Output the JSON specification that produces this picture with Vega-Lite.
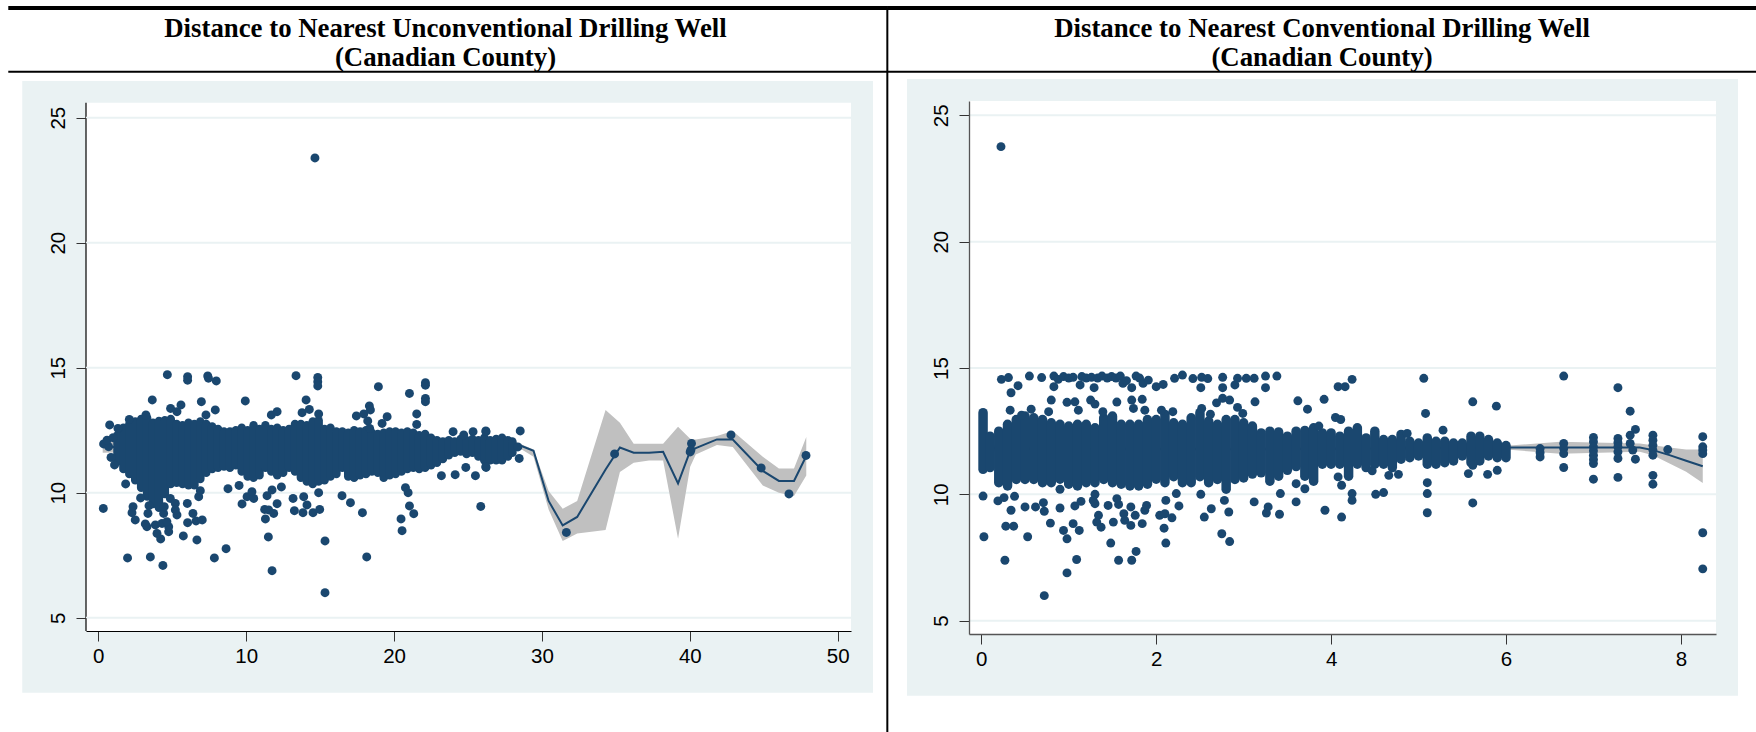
{"$schema":"https://vega.github.io/schema/vega-lite/v6.json","padding":{"left":6,"top":5,"right":0,"bottom":0},"background":"#ffffff","spacing":118,"bounds":"flush","config":{"view":{"stroke":null},"axis":{"grid":false,"title":null,"labelFont":"Liberation Sans","labelFontSize":20.5,"labelColor":"#000000","tickSize":10,"tickWidth":1,"labelPadding":8},"axisX":{"labelPadding":5},"title":{"font":"Liberation Serif","fontSize":26.8,"fontWeight":"bold","color":"#000000","anchor":"middle","frame":"group","lineHeight":29,"offset":-66}},"hconcat":[{"width":765,"height":530,"data":{"values":[{"k":1}]},"title":{"text":["Distance to Nearest Unconventional Drilling Well","(Canadian County)"],"dx":-23},"layer":[{"mark":{"type":"rect","color":"#eaf2f3","clip":false},"encoding":{"x":{"datum":-5.139,"type":"quantitative","scale":{"domain":[-0.83,50.894],"nice":false,"zero":false},"axis":{"title":null,"zindex":1,"values":[0,10,20,30,40,50],"format":"d","domain":true,"domainColor":"#000000","domainWidth":1,"tickColor":"#333333"}},"x2":{"datum":52.38},"y":{"datum":2.0,"type":"quantitative","scale":{"domain":[4.468,25.668],"nice":false,"zero":false},"axis":{"title":null,"zindex":1,"values":[5,10,15,20,25],"format":"d","domain":false,"labelAngle":-90,"tickColor":"#333333"}},"y2":{"datum":26.468}}},{"mark":{"type":"rect","color":"#ffffff","clip":false},"encoding":{"x":{"datum":-0.83,"type":"quantitative"},"x2":{"datum":50.894},"y":{"datum":4.468,"type":"quantitative"},"y2":{"datum":25.6}}},{"mark":{"type":"rule","color":"#000000","strokeWidth":1.2,"clip":false},"encoding":{"x":{"datum":-0.83,"type":"quantitative"},"y":{"datum":4.468,"type":"quantitative"},"y2":{"datum":25.6}}},{"data":{"values":[{"g":5},{"g":10},{"g":15},{"g":20},{"g":25}]},"mark":{"type":"rule","color":"#eaf2f3","strokeWidth":2},"encoding":{"y":{"field":"g","type":"quantitative"}}},{"data":{"values":[{"x":0.3,"lo":11.6,"hi":12.1,"fit":11.85},{"x":5,"lo":11.65,"hi":11.8,"fit":11.72},{"x":10,"lo":11.7,"hi":11.85,"fit":11.78},{"x":20,"lo":11.65,"hi":11.8,"fit":11.72},{"x":28.08,"lo":11.93,"hi":12.07,"fit":12.0},{"x":29.43,"lo":11.44,"hi":11.73,"fit":11.68},{"x":30.45,"lo":9.33,"hi":10.07,"fit":9.67},{"x":31.4,"lo":8.07,"hi":9.36,"fit":8.69},{"x":32.38,"lo":8.37,"hi":9.67,"fit":9.03},{"x":34.3,"lo":8.51,"hi":13.31,"fit":10.93},{"x":35.27,"lo":10.83,"hi":12.8,"fit":11.81},{"x":36.2,"lo":11.2,"hi":11.96,"fit":11.6},{"x":37.24,"lo":11.29,"hi":11.96,"fit":11.6},{"x":38.19,"lo":11.29,"hi":11.96,"fit":11.64},{"x":39.2,"lo":8.16,"hi":12.64,"fit":10.37},{"x":40.02,"lo":11.04,"hi":12.16,"fit":11.67},{"x":40.4,"lo":11.53,"hi":12.13,"fit":11.78},{"x":41.83,"lo":11.91,"hi":12.27,"fit":12.13},{"x":42.9,"lo":11.83,"hi":12.47,"fit":12.13},{"x":44.93,"lo":10.29,"hi":11.44,"fit":10.87},{"x":46.02,"lo":10.0,"hi":10.97,"fit":10.47},{"x":47.04,"lo":9.87,"hi":10.97,"fit":10.47},{"x":47.87,"lo":10.69,"hi":12.23,"fit":11.47}]},"layer":[{"mark":{"type":"area","color":"#c0c0c0"},"encoding":{"x":{"field":"x","type":"quantitative"},"y":{"field":"lo","type":"quantitative"},"y2":{"field":"hi"}}},{"mark":{"type":"line","color":"#1a476f","strokeWidth":2},"encoding":{"x":{"field":"x","type":"quantitative"},"y":{"field":"fit","type":"quantitative"}}}]},{"data":{"values":[{"x":1.3,"lo":11.25,"hi":12.3},{"x":1.7,"lo":10.95,"hi":12.6},{"x":2.1,"lo":10.75,"hi":12.75},{"x":2.5,"lo":10.5,"hi":12.85},{"x":2.9,"lo":10.2,"hi":12.95},{"x":3.3,"lo":9.85,"hi":13.0},{"x":3.7,"lo":9.55,"hi":12.8},{"x":4.1,"lo":9.4,"hi":12.87},{"x":4.5,"lo":9.95,"hi":12.9},{"x":4.9,"lo":10.35,"hi":12.95},{"x":5.3,"lo":10.4,"hi":12.75},{"x":5.7,"lo":10.35,"hi":12.7},{"x":6.1,"lo":10.3,"hi":12.8},{"x":6.5,"lo":10.3,"hi":12.75},{"x":6.9,"lo":10.55,"hi":12.85},{"x":7.3,"lo":10.8,"hi":12.75},{"x":7.7,"lo":10.95,"hi":12.65},{"x":8.1,"lo":11.0,"hi":12.55},{"x":8.5,"lo":11.05,"hi":12.45},{"x":8.9,"lo":11.0,"hi":12.45},{"x":9.3,"lo":11.1,"hi":12.5},{"x":9.7,"lo":10.85,"hi":12.6},{"x":10.1,"lo":10.65,"hi":12.5},{"x":10.5,"lo":10.6,"hi":12.7},{"x":10.9,"lo":10.7,"hi":12.55},{"x":11.3,"lo":11.0,"hi":12.7},{"x":11.7,"lo":10.85,"hi":12.55},{"x":12.1,"lo":10.7,"hi":12.6},{"x":12.5,"lo":10.8,"hi":12.5},{"x":12.9,"lo":11.0,"hi":12.55},{"x":13.3,"lo":10.85,"hi":12.75},{"x":13.7,"lo":10.6,"hi":12.75},{"x":14.1,"lo":10.45,"hi":12.7},{"x":14.5,"lo":10.35,"hi":12.85},{"x":14.9,"lo":10.45,"hi":12.9},{"x":15.3,"lo":10.5,"hi":12.55},{"x":15.7,"lo":10.65,"hi":12.6},{"x":16.1,"lo":10.75,"hi":12.45},{"x":16.5,"lo":11.0,"hi":12.45},{"x":16.9,"lo":10.65,"hi":12.4},{"x":17.3,"lo":10.6,"hi":12.5},{"x":17.7,"lo":10.7,"hi":12.45},{"x":18.1,"lo":10.75,"hi":12.5},{"x":18.5,"lo":10.85,"hi":12.4},{"x":18.9,"lo":10.8,"hi":12.35},{"x":19.3,"lo":10.6,"hi":12.4},{"x":19.7,"lo":10.7,"hi":12.45},{"x":20.1,"lo":10.75,"hi":12.45},{"x":20.5,"lo":10.85,"hi":12.4},{"x":20.9,"lo":10.95,"hi":12.45},{"x":21.3,"lo":11.0,"hi":12.4},{"x":21.7,"lo":10.95,"hi":12.3},{"x":22.1,"lo":11.0,"hi":12.35},{"x":22.5,"lo":11.1,"hi":12.2},{"x":22.9,"lo":11.2,"hi":12.1},{"x":23.3,"lo":11.35,"hi":12.05},{"x":23.7,"lo":11.5,"hi":12.1},{"x":24.1,"lo":11.6,"hi":12.05},{"x":24.5,"lo":11.65,"hi":12.15},{"x":24.9,"lo":11.55,"hi":12.1},{"x":25.3,"lo":11.6,"hi":12.15},{"x":25.7,"lo":11.45,"hi":12.1},{"x":26.1,"lo":11.3,"hi":12.2},{"x":26.5,"lo":11.3,"hi":12.1},{"x":26.9,"lo":11.3,"hi":12.15},{"x":27.3,"lo":11.3,"hi":12.2},{"x":27.7,"lo":11.45,"hi":12.1},{"x":28.0,"lo":11.6,"hi":12.05}]},"mark":{"type":"rule","color":"#1a476f","strokeWidth":8.5,"strokeCap":"round"},"encoding":{"x":{"field":"x","type":"quantitative"},"y":{"field":"lo","type":"quantitative"},"y2":{"field":"hi"}}},{"data":{"values":[{"x":14.65,"y":23.39},{"x":0.34,"y":9.37},{"x":1.98,"y":7.39},{"x":3.52,"y":7.43},{"x":4.37,"y":7.09},{"x":7.85,"y":7.39},{"x":8.64,"y":7.76},{"x":11.75,"y":6.88},{"x":15.33,"y":6.0},{"x":15.33,"y":8.07},{"x":18.15,"y":7.43},{"x":11.5,"y":8.23},{"x":6.67,"y":8.11},{"x":5.75,"y":8.27},{"x":4.22,"y":8.15},{"x":4.76,"y":8.44},{"x":3.97,"y":8.37},{"x":3.29,"y":8.64},{"x":3.18,"y":8.75},{"x":2.5,"y":8.91},{"x":2.28,"y":9.2},{"x":2.35,"y":9.44},{"x":2.86,"y":9.79},{"x":1.85,"y":10.35},{"x":3.36,"y":9.17},{"x":3.43,"y":9.48},{"x":3.86,"y":8.71},{"x":4.31,"y":8.77},{"x":4.76,"y":8.64},{"x":4.64,"y":8.84},{"x":4.42,"y":9.17},{"x":4.46,"y":9.44},{"x":4.87,"y":9.77},{"x":5.21,"y":9.57},{"x":5.32,"y":9.11},{"x":5.21,"y":9.31},{"x":6.02,"y":9.57},{"x":6.04,"y":8.8},{"x":6.4,"y":9.17},{"x":6.61,"y":8.87},{"x":7.03,"y":8.91},{"x":6.79,"y":9.84},{"x":6.9,"y":10.08},{"x":8.77,"y":10.16},{"x":9.52,"y":10.29},{"x":9.72,"y":9.55},{"x":10.06,"y":9.84},{"x":10.51,"y":9.77},{"x":10.39,"y":10.04},{"x":11.25,"y":9.33},{"x":11.3,"y":8.95},{"x":11.52,"y":9.31},{"x":11.86,"y":9.17},{"x":12.09,"y":9.56},{"x":11.41,"y":9.88},{"x":11.75,"y":10.11},{"x":12.38,"y":10.23},{"x":13.17,"y":9.77},{"x":13.26,"y":9.28},{"x":13.89,"y":9.84},{"x":13.84,"y":9.2},{"x":14.11,"y":9.51},{"x":14.52,"y":9.2},{"x":14.97,"y":9.33},{"x":14.9,"y":10.0},{"x":16.48,"y":9.88},{"x":17.05,"y":9.6},{"x":17.86,"y":9.2},{"x":20.47,"y":8.95},{"x":20.54,"y":8.48},{"x":21.04,"y":9.47},{"x":21.33,"y":9.16},{"x":20.95,"y":10.0},{"x":20.77,"y":10.2},{"x":23.2,"y":10.68},{"x":24.13,"y":10.72},{"x":25.5,"y":10.68},{"x":25.86,"y":9.45},{"x":24.85,"y":11.01},{"x":26.22,"y":11.01},{"x":4.67,"y":14.72},{"x":6.04,"y":14.64},{"x":6.04,"y":14.5},{"x":7.4,"y":14.67},{"x":7.45,"y":14.58},{"x":7.98,"y":14.47},{"x":13.37,"y":14.68},{"x":14.84,"y":14.61},{"x":14.84,"y":14.44},{"x":14.84,"y":14.27},{"x":22.12,"y":14.4},{"x":22.12,"y":14.3},{"x":22.12,"y":13.77},{"x":22.12,"y":13.64},{"x":21.04,"y":13.97},{"x":18.94,"y":14.24},{"x":3.65,"y":13.71},{"x":6.97,"y":13.64},{"x":9.94,"y":13.67},{"x":14.05,"y":13.71},{"x":7.91,"y":13.31},{"x":4.89,"y":13.37},{"x":5.59,"y":13.51},{"x":5.32,"y":13.24},{"x":7.28,"y":13.11},{"x":11.7,"y":13.11},{"x":12.09,"y":13.24},{"x":13.78,"y":13.2},{"x":14.27,"y":13.33},{"x":14.9,"y":13.15},{"x":18.33,"y":13.47},{"x":18.4,"y":13.31},{"x":17.95,"y":13.15},{"x":17.45,"y":13.07},{"x":19.53,"y":13.04},{"x":19.19,"y":12.77},{"x":21.53,"y":13.15},{"x":21.53,"y":12.73},{"x":18.22,"y":12.87},{"x":18.35,"y":12.57},{"x":23.99,"y":12.44},{"x":24.71,"y":12.31},{"x":25.34,"y":12.44},{"x":26.22,"y":12.44},{"x":3.22,"y":13.11},{"x":2.1,"y":12.93},{"x":0.77,"y":12.71},{"x":1.33,"y":12.57},{"x":0.36,"y":11.95},{"x":0.7,"y":11.84},{"x":0.86,"y":11.41},{"x":1.1,"y":11.11},{"x":0.59,"y":12.1},{"x":1.0,"y":12.2},{"x":28.53,"y":12.47},{"x":28.37,"y":11.83},{"x":28.46,"y":11.37},{"x":26.2,"y":12.47},{"x":26.2,"y":11.04},{"x":31.65,"y":8.41},{"x":34.91,"y":11.55},{"x":40.11,"y":11.97},{"x":40.07,"y":11.71},{"x":40.02,"y":11.63},{"x":42.78,"y":12.31},{"x":44.82,"y":10.99},{"x":46.7,"y":9.95},{"x":47.85,"y":11.49}]},"mark":{"type":"circle","color":"#1a476f","size":80,"opacity":1},"encoding":{"x":{"field":"x","type":"quantitative"},"y":{"field":"y","type":"quantitative"}}},{"mark":{"type":"rule","color":"#000000","strokeWidth":4,"clip":false},"encoding":{"x":{"datum":-6.085,"type":"quantitative"},"x2":{"datum":53.35},"y":{"datum":29.388,"type":"quantitative"}}},{"mark":{"type":"rule","color":"#000000","strokeWidth":2,"clip":false},"encoding":{"x":{"datum":-6.085,"type":"quantitative"},"x2":{"datum":53.35},"y":{"datum":26.84,"type":"quantitative"}}},{"mark":{"type":"rule","color":"#000000","strokeWidth":2,"clip":false},"encoding":{"x":{"datum":53.35,"type":"quantitative"},"y":{"datum":29.388,"type":"quantitative"},"y2":{"datum":0.38}}}]},{"width":747,"height":533,"data":{"values":[{"k":1}]},"title":{"text":["Distance to Nearest Conventional Drilling Well","(Canadian County)"],"dx":-20.5},"layer":[{"mark":{"type":"rect","color":"#eaf2f3","clip":false},"encoding":{"x":{"datum":-0.85,"type":"quantitative","scale":{"domain":[-0.1407,8.4015],"nice":false,"zero":false},"axis":{"title":null,"zindex":1,"values":[0,2,4,6,8],"format":"d","domain":true,"domainColor":"#555555","domainWidth":1.3,"tickColor":"#333333"}},"x2":{"datum":8.653},"y":{"datum":2.032,"type":"quantitative","scale":{"domain":[4.472,25.566],"nice":false,"zero":false},"axis":{"title":null,"zindex":1,"values":[5,10,15,20,25],"format":"d","domain":true,"domainColor":"#555555","domainWidth":1.3,"labelAngle":-90,"tickColor":"#333333"}},"y2":{"datum":26.436}}},{"mark":{"type":"rect","color":"#ffffff","clip":false},"encoding":{"x":{"datum":-0.1407,"type":"quantitative"},"x2":{"datum":8.4015},"y":{"datum":4.472,"type":"quantitative"},"y2":{"datum":25.566}}},{"data":{"values":[{"g":5},{"g":10},{"g":15},{"g":20},{"g":25}]},"mark":{"type":"rule","color":"#eaf2f3","strokeWidth":2},"encoding":{"y":{"field":"g","type":"quantitative"}}},{"data":{"values":[{"x":0.02,"lo":11.7,"hi":11.95,"fit":11.82},{"x":3,"lo":11.72,"hi":11.85,"fit":11.78},{"x":6.08,"lo":11.75,"hi":11.94,"fit":11.85},{"x":6.62,"lo":11.61,"hi":12.08,"fit":11.85},{"x":7.53,"lo":11.68,"hi":12.01,"fit":11.85},{"x":7.68,"lo":11.55,"hi":11.94,"fit":11.75},{"x":7.87,"lo":11.22,"hi":11.85,"fit":11.55},{"x":8.06,"lo":10.89,"hi":11.77,"fit":11.33},{"x":8.25,"lo":10.45,"hi":11.77,"fit":11.11}]},"layer":[{"mark":{"type":"area","color":"#c0c0c0"},"encoding":{"x":{"field":"x","type":"quantitative"},"y":{"field":"lo","type":"quantitative"},"y2":{"field":"hi"}}},{"mark":{"type":"line","color":"#1a476f","strokeWidth":2},"encoding":{"x":{"field":"x","type":"quantitative"},"y":{"field":"fit","type":"quantitative"}}}]},{"data":{"values":[{"x":0.02,"lo":10.99,"hi":13.23},{"x":0.1,"lo":11.06,"hi":12.3},{"x":0.2,"lo":10.46,"hi":12.5},{"x":0.3,"lo":10.33,"hi":12.77},{"x":0.4,"lo":10.59,"hi":12.96},{"x":0.5,"lo":10.59,"hi":13.1},{"x":0.6,"lo":10.59,"hi":13.03},{"x":0.7,"lo":10.46,"hi":12.96},{"x":0.8,"lo":10.46,"hi":12.83},{"x":0.9,"lo":10.6,"hi":12.77},{"x":1.0,"lo":10.4,"hi":12.7},{"x":1.1,"lo":10.33,"hi":12.77},{"x":1.2,"lo":10.46,"hi":12.77},{"x":1.3,"lo":10.46,"hi":12.63},{"x":1.4,"lo":10.59,"hi":13.03},{"x":1.5,"lo":10.46,"hi":13.1},{"x":1.6,"lo":10.4,"hi":12.77},{"x":1.7,"lo":10.33,"hi":12.77},{"x":1.8,"lo":10.33,"hi":12.77},{"x":1.9,"lo":10.4,"hi":12.96},{"x":2.0,"lo":10.6,"hi":12.96},{"x":2.1,"lo":10.46,"hi":13.16},{"x":2.2,"lo":10.7,"hi":12.83},{"x":2.3,"lo":10.46,"hi":12.77},{"x":2.4,"lo":10.46,"hi":13.03},{"x":2.5,"lo":10.7,"hi":13.23},{"x":2.6,"lo":10.46,"hi":12.9},{"x":2.7,"lo":10.59,"hi":12.77},{"x":2.8,"lo":10.2,"hi":12.96},{"x":2.9,"lo":10.59,"hi":12.96},{"x":3.0,"lo":10.65,"hi":12.83},{"x":3.1,"lo":10.8,"hi":12.7},{"x":3.2,"lo":10.85,"hi":12.43},{"x":3.3,"lo":10.52,"hi":12.5},{"x":3.4,"lo":10.72,"hi":12.47},{"x":3.5,"lo":10.95,"hi":12.3},{"x":3.6,"lo":11.1,"hi":12.5},{"x":3.7,"lo":10.72,"hi":12.53},{"x":3.8,"lo":10.52,"hi":12.63},{"x":3.9,"lo":11.19,"hi":12.43},{"x":4.0,"lo":11.19,"hi":12.43},{"x":4.1,"lo":11.19,"hi":12.3},{"x":4.2,"lo":10.72,"hi":12.5},{"x":4.3,"lo":11.19,"hi":12.63},{"x":4.4,"lo":11.06,"hi":12.23},{"x":4.5,"lo":11.19,"hi":12.5},{"x":4.6,"lo":11.19,"hi":12.17},{"x":4.7,"lo":11.06,"hi":12.17},{"x":4.8,"lo":11.39,"hi":12.37},{"x":4.9,"lo":11.45,"hi":12.1},{"x":5.0,"lo":11.52,"hi":12.03},{"x":5.1,"lo":11.19,"hi":12.23},{"x":5.2,"lo":11.19,"hi":12.1},{"x":5.3,"lo":11.25,"hi":12.1},{"x":5.4,"lo":11.32,"hi":12.03},{"x":5.5,"lo":11.52,"hi":12.03},{"x":5.6,"lo":11.25,"hi":12.3},{"x":5.7,"lo":11.32,"hi":12.3},{"x":5.8,"lo":11.52,"hi":12.17},{"x":5.9,"lo":11.45,"hi":12.03},{"x":6.0,"lo":11.45,"hi":11.93}]},"mark":{"type":"rule","color":"#1a476f","strokeWidth":9.5,"strokeCap":"round"},"encoding":{"x":{"field":"x","type":"quantitative"},"y":{"field":"lo","type":"quantitative"},"y2":{"field":"hi"}}},{"data":{"values":[{"x":0.225,"y":23.76},{"x":0.23,"y":14.55},{"x":0.31,"y":14.62},{"x":0.55,"y":14.68},{"x":0.69,"y":14.62},{"x":0.83,"y":14.68},{"x":0.83,"y":14.26},{"x":0.88,"y":14.55},{"x":0.94,"y":14.66},{"x":1.0,"y":14.6},{"x":1.05,"y":14.63},{"x":1.13,"y":14.33},{"x":1.15,"y":14.66},{"x":1.2,"y":14.6},{"x":1.26,"y":14.63},{"x":1.29,"y":14.22},{"x":1.33,"y":14.6},{"x":1.38,"y":14.68},{"x":1.44,"y":14.6},{"x":1.49,"y":14.66},{"x":1.54,"y":14.6},{"x":1.59,"y":14.68},{"x":1.62,"y":14.39},{"x":1.66,"y":14.5},{"x":1.72,"y":14.22},{"x":1.77,"y":14.68},{"x":1.81,"y":14.6},{"x":1.85,"y":14.39},{"x":1.91,"y":14.52},{"x":2.0,"y":14.26},{"x":2.08,"y":14.35},{"x":2.21,"y":14.59},{"x":2.3,"y":14.72},{"x":2.42,"y":14.58},{"x":2.52,"y":14.63},{"x":2.59,"y":14.58},{"x":2.51,"y":14.22},{"x":2.76,"y":14.63},{"x":2.76,"y":14.22},{"x":2.9,"y":14.33},{"x":2.93,"y":14.59},{"x":3.03,"y":14.59},{"x":3.12,"y":14.59},{"x":3.25,"y":14.68},{"x":3.25,"y":14.22},{"x":3.38,"y":14.68},{"x":0.34,"y":14.02},{"x":0.42,"y":14.3},{"x":0.8,"y":13.73},{"x":0.98,"y":13.64},{"x":1.07,"y":13.66},{"x":1.11,"y":13.33},{"x":1.25,"y":13.73},{"x":1.3,"y":13.57},{"x":1.55,"y":13.65},{"x":1.72,"y":13.73},{"x":1.84,"y":13.76},{"x":1.39,"y":13.27},{"x":1.74,"y":13.4},{"x":1.87,"y":13.33},{"x":2.06,"y":13.33},{"x":2.19,"y":13.27},{"x":2.52,"y":13.4},{"x":2.62,"y":13.17},{"x":2.69,"y":13.62},{"x":2.76,"y":13.8},{"x":2.84,"y":13.73},{"x":2.93,"y":13.44},{"x":2.99,"y":13.2},{"x":3.13,"y":13.66},{"x":3.62,"y":13.7},{"x":3.73,"y":13.37},{"x":3.92,"y":13.76},{"x":3.86,"y":12.7},{"x":0.33,"y":13.33},{"x":0.57,"y":13.37},{"x":0.77,"y":13.27},{"x":0.46,"y":13.13},{"x":0.02,"y":9.93},{"x":0.03,"y":8.32},{"x":0.27,"y":7.39},{"x":0.28,"y":8.74},{"x":0.37,"y":8.74},{"x":0.53,"y":8.32},{"x":0.72,"y":5.99},{"x":0.98,"y":6.89},{"x":1.09,"y":7.42},{"x":0.98,"y":8.24},{"x":0.94,"y":8.57},{"x":1.05,"y":8.84},{"x":1.12,"y":8.57},{"x":0.79,"y":8.86},{"x":0.72,"y":9.33},{"x":0.62,"y":9.5},{"x":0.5,"y":9.5},{"x":0.34,"y":9.37},{"x":0.19,"y":9.74},{"x":0.26,"y":9.87},{"x":0.38,"y":9.92},{"x":0.71,"y":9.67},{"x":0.9,"y":9.46},{"x":0.9,"y":10.2},{"x":1.07,"y":9.54},{"x":1.14,"y":9.72},{"x":1.3,"y":9.63},{"x":1.3,"y":10.0},{"x":1.45,"y":9.56},{"x":1.57,"y":9.6},{"x":1.51,"y":8.9},{"x":1.48,"y":8.07},{"x":1.57,"y":7.39},{"x":1.72,"y":7.39},{"x":1.77,"y":7.74},{"x":1.34,"y":9.17},{"x":1.32,"y":8.9},{"x":1.37,"y":8.7},{"x":1.63,"y":9.23},{"x":1.64,"y":8.97},{"x":1.71,"y":8.77},{"x":1.71,"y":9.5},{"x":1.76,"y":9.17},{"x":1.84,"y":8.84},{"x":1.87,"y":9.37},{"x":1.89,"y":9.56},{"x":2.04,"y":9.17},{"x":2.1,"y":9.23},{"x":2.18,"y":9.07},{"x":2.09,"y":8.66},{"x":2.11,"y":8.07},{"x":2.11,"y":9.76},{"x":2.26,"y":9.54},{"x":2.51,"y":10.0},{"x":2.55,"y":9.1},{"x":2.63,"y":9.43},{"x":2.83,"y":9.3},{"x":2.78,"y":9.76},{"x":2.75,"y":8.44},{"x":2.84,"y":8.13},{"x":3.12,"y":9.7},{"x":3.26,"y":9.26},{"x":3.28,"y":9.5},{"x":3.41,"y":9.21},{"x":3.42,"y":10.03},{"x":3.6,"y":9.7},{"x":3.6,"y":10.42},{"x":3.7,"y":10.22},{"x":3.93,"y":9.37},{"x":1.28,"y":9.76},{"x":1.55,"y":9.83},{"x":2.23,"y":10.03},{"x":4.24,"y":14.55},{"x":4.08,"y":14.26},{"x":4.16,"y":14.26},{"x":4.05,"y":13.04},{"x":4.11,"y":12.96},{"x":4.12,"y":9.1},{"x":4.24,"y":9.76},{"x":4.24,"y":10.03},{"x":4.12,"y":10.36},{"x":4.08,"y":10.69},{"x":4.51,"y":10.0},{"x":4.6,"y":10.07},{"x":4.47,"y":10.93},{"x":4.66,"y":10.75},{"x":4.77,"y":10.79},{"x":5.06,"y":14.59},{"x":5.08,"y":13.2},{"x":5.1,"y":10.46},{"x":5.1,"y":10.03},{"x":5.1,"y":9.27},{"x":5.62,"y":13.66},{"x":5.89,"y":13.49},{"x":5.62,"y":9.66},{"x":5.57,"y":10.82},{"x":5.62,"y":11.15},{"x":5.79,"y":10.79},{"x":5.9,"y":10.95},{"x":5.28,"y":12.54},{"x":4.87,"y":12.41},{"x":6.66,"y":14.68},{"x":7.28,"y":14.22},{"x":7.42,"y":13.29},{"x":7.48,"y":12.57},{"x":7.42,"y":12.34},{"x":7.48,"y":11.39},{"x":6.66,"y":11.06},{"x":7.0,"y":10.6},{"x":7.28,"y":10.67},{"x":7.68,"y":10.75},{"x":7.68,"y":10.4},{"x":7.85,"y":11.77},{"x":8.25,"y":12.28},{"x":8.25,"y":11.88},{"x":8.25,"y":11.75},{"x":8.25,"y":11.61},{"x":8.25,"y":8.48},{"x":8.25,"y":7.05},{"x":6.39,"y":11.81},{"x":6.39,"y":11.48},{"x":6.39,"y":11.65},{"x":6.66,"y":12.01},{"x":6.66,"y":11.81},{"x":6.66,"y":11.61},{"x":7.0,"y":12.25},{"x":7.0,"y":12.08},{"x":7.0,"y":11.88},{"x":7.0,"y":11.72},{"x":7.0,"y":11.55},{"x":7.0,"y":11.38},{"x":7.0,"y":11.22},{"x":7.28,"y":12.21},{"x":7.28,"y":12.04},{"x":7.28,"y":11.88},{"x":7.28,"y":11.68},{"x":7.28,"y":11.42},{"x":7.42,"y":12.01},{"x":7.45,"y":11.75},{"x":7.68,"y":12.34},{"x":7.68,"y":12.14},{"x":7.68,"y":11.94},{"x":7.68,"y":11.75},{"x":7.68,"y":11.55}]},"mark":{"type":"circle","color":"#1a476f","size":80,"opacity":1},"encoding":{"x":{"field":"x","type":"quantitative"},"y":{"field":"y","type":"quantitative"}}},{"mark":{"type":"rule","color":"#000000","strokeWidth":4,"clip":false},"encoding":{"x":{"datum":-1.078,"type":"quantitative"},"x2":{"datum":8.89},"y":{"datum":29.246,"type":"quantitative"}}},{"mark":{"type":"rule","color":"#000000","strokeWidth":2,"clip":false},"encoding":{"x":{"datum":-1.078,"type":"quantitative"},"x2":{"datum":8.89},"y":{"datum":26.726,"type":"quantitative"}}}]}]}
